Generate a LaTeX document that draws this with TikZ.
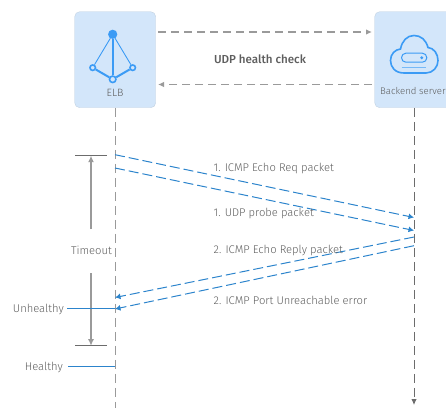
\documentclass[tikz,border=0pt]{standalone}
\usepackage{fontspec}
\setmainfont{Fira Sans}[UprightFont = *-Light, BoldFont = *-Medium]
\usetikzlibrary{arrows.meta}
\definecolor{boxblue}{HTML}{D3E6FA}
\definecolor{iconblue}{HTML}{3B9BF5}
\definecolor{msgblue}{HTML}{2C84CC}
\definecolor{linegray}{HTML}{9A9A9A}
\definecolor{textgray}{HTML}{5E5E5E}
\begin{document}
\begin{tikzpicture}[x = 1pt, y = -1pt]
\tikzstyle{BoxStyle}=[draw = boxblue!80!gray, fill = boxblue, rounded corners = 5pt, line width = 0.4pt]
\tikzstyle{TextStyle}=[font = \fontsize{11.2}{13}\selectfont, text = textgray, inner sep = 0pt]
\tikzstyle{PointStyle}=[shape = circle, draw = iconblue, fill = boxblue, line width = 1.6pt, inner sep = 0pt, minimum size = 5.5pt]
\tikzstyle{LifeStyle}=[draw = linegray, line width = 1pt, dash pattern = on 9pt off 5pt]
\tikzstyle{HealthStyle}=[draw = linegray, line width = 1.3pt, dash pattern = on 8pt off 5pt, -{Latex[length = 6pt, width = 5.5pt]}]
\tikzstyle{MsgStyle}=[draw = msgblue, line width = 1pt, dash pattern = on 10pt off 4pt, -{Latex[length = 5.5pt, width = 6pt]}]
\tikzstyle{TimeStyle}=[draw = linegray, line width = 1.2pt, -{Latex[length = 6.5pt, width = 6pt]}]
\tikzstyle{StateStyle}=[draw = msgblue, line width = 1pt]
\useasboundingbox (0,0) rectangle (446,407);
\clip (0,0) rectangle (446,407);
\node[BoxStyle, minimum width = 81pt, minimum height = 96pt, anchor = north west] (elb) at (74.5,11.5) {};
\node[BoxStyle, minimum width = 81pt, minimum height = 96pt, anchor = north west] (server) at (374.5,11.5) {};
\node[TextStyle, font = \fontsize{10.6}{12}\selectfont] (elblabel) at (115,93) {ELB};
\node[TextStyle, font = \fontsize{9.6}{12}\selectfont, anchor = east] (serverlabel) at (445.8,91) {Backend server};
% load balancer icon
\node[PointStyle, fill = iconblue, minimum size = 7.5pt] (p0) at (112.7,34.3) {};
\node[PointStyle] (p1) at (92.7,67.7) {};
\node[PointStyle] (p2) at (132.7,67.7) {};
\node[PointStyle, minimum size = 6.5pt] (p3) at (112.7,79.3) {};
\draw[iconblue, line width = 0.9pt] (p0) -- (p1);
\draw[iconblue, line width = 0.9pt] (p0) -- (p2);
\draw[iconblue, line width = 2pt] (p0) -- (p3);
\draw[iconblue, line width = 2pt] (p1) -- (p3);
\draw[iconblue, line width = 2pt] (p2) -- (p3);
% server icon
\draw[iconblue, line width = 1.6pt] (404,73) .. controls (395,73) and (390.5,67) .. (390.5,60.5) .. controls (390.5,54) and (395,49.5) .. (400.5,49) .. controls (402,41) and (407,35.5) .. (414,35.5) .. controls (421,35.5) and (426,40) .. (428,47.5) .. controls (434,48) and (438,54) .. (438,60.5) .. controls (438,67) and (433,73) .. (426,73) -- cycle;
\draw[iconblue, line width = 1pt, rounded corners = 4.4pt] (401.5,53.2) rectangle (426.8,62.2);
\fill[iconblue] (421.7,57.7) circle (1.6pt);
\draw[iconblue!70, line width = 1pt] (401.7,67.3) -- (426,67.3);
% lifelines
\coordinate (elbend) at (115,408);
\coordinate (serverend) at (414,405);
\draw[LifeStyle] (elb.south -| elbend) -- (elbend);
\draw[LifeStyle, line width = 0.9pt, draw = linegray!70!black, -{Latex[length = 6pt, width = 5.5pt]}] (server.south -| serverend) -- (serverend);
% health check
\coordinate (h0) at (158,32);
\coordinate (h1) at (372,32);
\coordinate (h2) at (372,84.5);
\coordinate (h3) at (158,84.5);
\draw[HealthStyle] (h0) -- (h1);
\draw[HealthStyle] (h2) -- (h3);
\node[TextStyle, font = \fontsize{11.6}{13}\selectfont\bfseries] (udpcheck) at (260,59) {UDP health check};
% packets
\coordinate (m0) at (115,154.7);
\coordinate (m1) at (414,217.5);
\coordinate (m2) at (115,168);
\coordinate (m3) at (414,230.5);
\coordinate (m4) at (414,237);
\coordinate (m5) at (115,297.5);
\coordinate (m6) at (414,245.7);
\coordinate (m7) at (115,309);
\draw[MsgStyle] (m0) -- (m1);
\draw[MsgStyle] (m2) -- (m3);
\draw[MsgStyle] (m4) -- (m5);
\draw[MsgStyle] (m6) -- (m7);
\node[TextStyle, anchor = west] (req) at (213.5,168.5) {1. ICMP Echo Req packet};
\node[TextStyle, anchor = west] (probe) at (213.5,213.5) {1. UDP probe packet};
\node[TextStyle, anchor = west] (reply) at (213.5,250.5) {2. ICMP Echo Reply packet};
\node[TextStyle, anchor = west] (port) at (213.5,300) {2. ICMP Port Unreachable error};
% timeout
\coordinate (t0) at (75,155.7);
\coordinate (t1) at (107,155.7);
\coordinate (t2) at (75,345.7);
\coordinate (t3) at (107,345.7);
\draw[draw = linegray!70!black, line width = 0.9pt] (t0) -- (t1);
\draw[draw = linegray!70!black, line width = 0.9pt] (t2) -- (t3);
\node[TextStyle] (timeout) at (91.5,250.5) {Timeout};
\coordinate (t4) at (91,229);
\coordinate (t5) at (91,273);
\draw[TimeStyle] (t4) -- (t0 -| t4);
\draw[TimeStyle] (t5) -- (t2 -| t5);
% states
\node[TextStyle, anchor = east] (unhealthy) at (64,309) {Unhealthy};
\node[TextStyle, anchor = east] (healthy) at (63,367) {Healthy};
\coordinate (u0) at (115,308.6);
\coordinate (u1) at (115,366.6);
\coordinate (u2) at (67,308.6);
\coordinate (u3) at (68,366.6);
\draw[StateStyle] (u2) -- (u0);
\draw[StateStyle] (u3) -- (u1);
\end{tikzpicture}
\end{document}
